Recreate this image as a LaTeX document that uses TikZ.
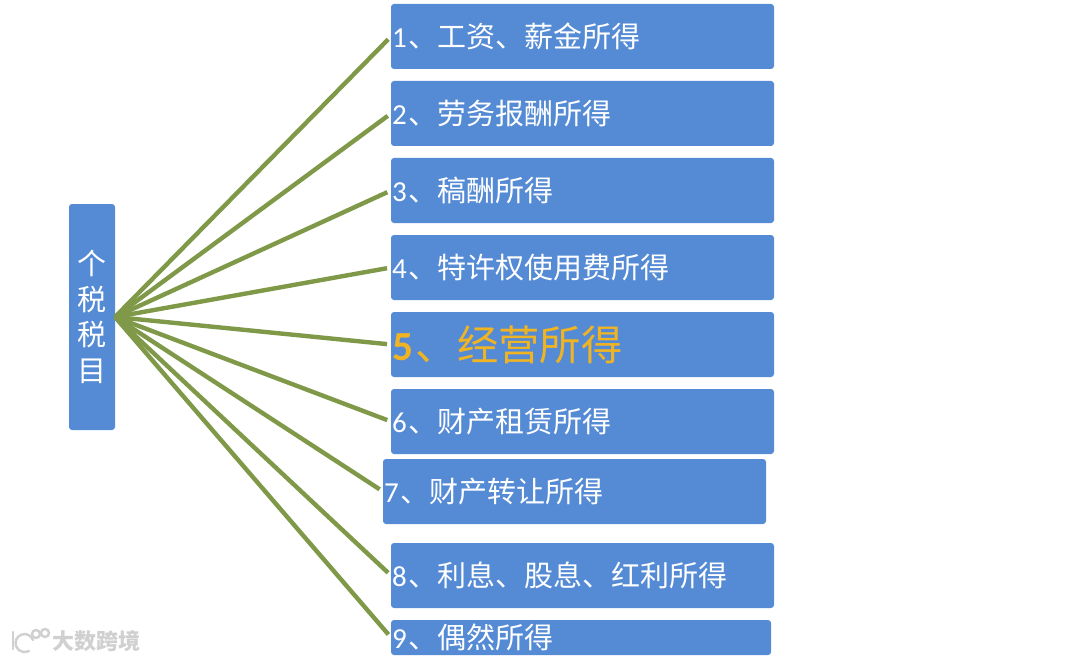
\documentclass[tikz,border=0pt]{standalone}
\usepackage{fontspec}
\setmainfont{Carlito}
\newfontfamily\cjk{Noto Sans CJK SC}
\usetikzlibrary{
  positioning
}
\definecolor{BoxBlue}{RGB}{85,139,213}
\definecolor{LineGreen}{RGB}{127,153,72}
\definecolor{GoldText}{RGB}{240,180,35}
\definecolor{MarkGray}{RGB}{208,208,208}
\newcommand{\numlabel}[2]{#1\kern1.5pt{\cjk #2}}
\tikzset{
  %% 右侧条目
  itembox/.style = {
    rectangle, rounded corners = 2.25pt,
    fill = BoxBlue, text = white, outer sep = 0pt,
    minimum width = 287.25pt, minimum height = 48.75pt,
    text width = 285.75pt, inner xsep = 0.75pt, inner ysep = 0pt,
    align = left, font = \fontsize{21.75pt}{26pt}\selectfont
  },
  hubbox/.style = {
    rectangle, rounded corners = 2.25pt,
    fill = BoxBlue, text = white, outer sep = 0pt,
    minimum width = 34.5pt, minimum height = 169.5pt,
    inner xsep = 0pt, align = center,
    font = \fontsize{21.75pt}{26.6pt}\selectfont\cjk
  },
  markstyle/.style = {
    text = MarkGray, inner sep = 0pt,
    font = \fontsize{16.5pt}{18pt}\selectfont\cjk\bfseries
  },
  markline/.style = {line width = 1.8pt, color = MarkGray, line cap = round},
  %% 连线
  link/.style = {line width = 3.3pt, color = LineGreen, shorten >= 3pt},
}
\begin{document}
\begin{tikzpicture}[x = 0.75pt, y = -0.75pt, node distance = 9pt]
  \useasboundingbox (0,0) rectangle (1076,660);

  \node[hubbox] (hub) at (92,317) {个\\税\\税\\目};

  \node[itembox, anchor = north west] (wage) at (391,4)
    {\numlabel{1}{、工资、薪金所得}};
  \node[itembox, below=of wage] (labor)
    {\numlabel{2}{、劳务报酬所得}};
  \node[itembox, below=of labor] (author)
    {\numlabel{3}{、稿酬所得}};
  \node[itembox, below=of author] (royalty)
    {\numlabel{4}{、特许权使用费所得}};
  \node[itembox, below=of royalty] (business)
    {\fontsize{31pt}{34pt}\selectfont\color{GoldText}\textbf{5}\kern2.25pt{\cjk 、经营所得}};
  \node[itembox, below=of business] (lease)
    {\numlabel{6}{、财产租赁所得}};
  \node[itembox, below=3.75pt of lease, xshift=-6pt] (transfer)
    {\numlabel{7}{、财产转让所得}};
  \node[itembox, below=14.25pt of transfer, xshift=6pt] (interest)
    {\numlabel{8}{、利息、股息、红利所得}};
  \node[itembox, below=of interest, minimum width = 285pt, text width = 283.5pt,
        minimum height = 26.25pt, xshift=-1.1pt] (chance)
    {\numlabel{9}{、偶然所得}};

  %% 连线
  \foreach \target in {wage,labor,author,royalty,business,lease,transfer,interest,chance}
    \draw[link] (hub.east) -- (\target.west);

  %% 水印
  \node[markstyle, anchor = west] (mark) at (52,641) {大数跨境};
  \draw[markline] (13,632) -- (13,649);
  \draw[markline] (33,640) arc (-20:-300:9);
  \draw[markline] (36,634) circle (4);
  \draw[markline] (45,633) circle (4);
\end{tikzpicture}
\end{document}
